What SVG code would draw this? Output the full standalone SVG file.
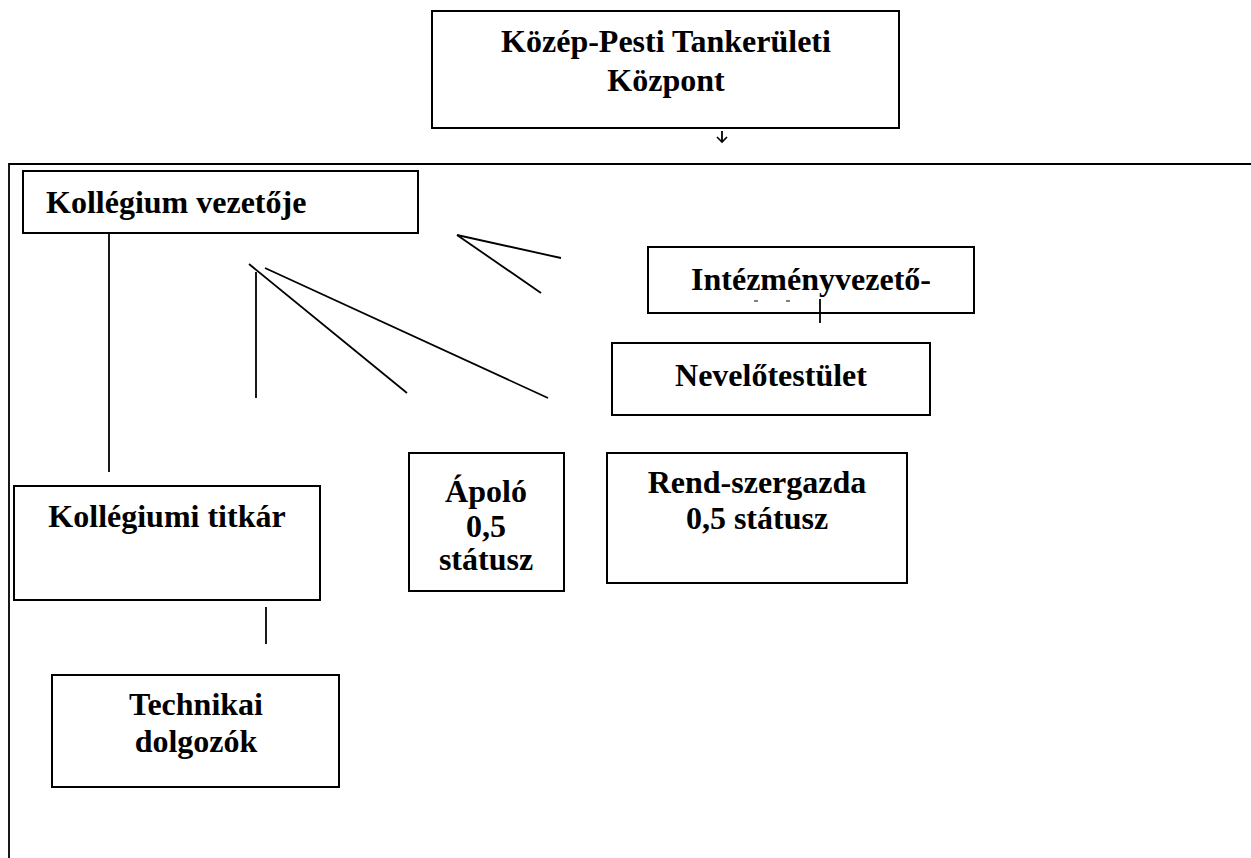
<svg xmlns="http://www.w3.org/2000/svg" width="1251" height="858" viewBox="0 0 1251 858">
<style>
.box{fill:#fff;stroke:#000;stroke-width:2}
.t{font-family:"Liberation Serif","Times New Roman",serif;font-weight:bold;font-size:32px;fill:#000}
.c{text-anchor:middle}
.ln{stroke:#000;stroke-width:1.8;fill:none}
</style>
<defs>
<marker id="ah" markerWidth="12" markerHeight="12" refX="6" refY="6" orient="auto" markerUnits="userSpaceOnUse">
<path d="M1,1 L6,6 L1,11" fill="none" stroke="#000" stroke-width="1.6"/>
</marker>
</defs>
<rect width="1251" height="858" fill="#fff"/>
<g id="frame">
<path d="M9,858 V164 H1251" class="ln" stroke-width="2"/>
</g>
<g id="node-kozpont">
<rect class="box" x="432" y="11" width="467" height="117"/>
<text class="t c" x="666" y="52">Közép-Pesti Tankerületi</text>
<text class="t c" x="666" y="91">Központ</text>
</g>
<g id="node-vezeto">
<rect class="box" x="23" y="171" width="395" height="62"/>
<text class="t" x="46" y="213">Kollégium vezetője</text>
</g>
<g id="node-intezmeny">
<rect class="box" x="648" y="247" width="326" height="66"/>
<text class="t c" x="811" y="290">Intézményvezető-</text>
<path d="M754,301 H758 M786,301 H790" stroke="#000" stroke-width="1"/>
</g>
<g id="node-nevelo">
<rect class="box" x="612" y="343" width="318" height="72"/>
<text class="t c" x="771" y="386">Nevelőtestület</text>
</g>
<g id="node-titkar">
<rect class="box" x="14" y="486" width="306" height="114"/>
<text class="t c" x="167" y="527">Kollégiumi titkár</text>
</g>
<g id="node-apolo">
<rect class="box" x="409" y="453" width="155" height="138"/>
<text class="t c" x="486" y="502">Ápoló</text>
<text class="t c" x="486" y="537">0,5</text>
<text class="t c" x="486" y="570">státusz</text>
</g>
<g id="node-rendszergazda">
<rect class="box" x="607" y="453" width="300" height="130"/>
<text class="t c" x="757" y="493">Rend-szergazda</text>
<text class="t c" x="757" y="529">0,5 státusz</text>
</g>
<g id="node-technikai">
<rect class="box" x="52" y="675" width="287" height="112"/>
<text class="t c" x="196" y="715">Technikai</text>
<text class="t c" x="196" y="752">dolgozók</text>
</g>
<g id="connectors">
<line class="ln" x1="722" y1="131" x2="722" y2="142" marker-end="url(#ah)"/>
<line class="ln" x1="109" y1="234" x2="109" y2="472"/>
<line class="ln" x1="457" y1="235" x2="561" y2="258"/>
<line class="ln" x1="457" y1="235" x2="541" y2="293"/>
<line class="ln" x1="249" y1="264" x2="407" y2="393"/>
<line class="ln" x1="265" y1="268" x2="548" y2="398"/>
<line class="ln" x1="256" y1="272" x2="256" y2="398"/>
<line class="ln" x1="820" y1="299" x2="820" y2="323"/>
<line class="ln" x1="266" y1="607" x2="266" y2="644"/>
</g>
</svg>
